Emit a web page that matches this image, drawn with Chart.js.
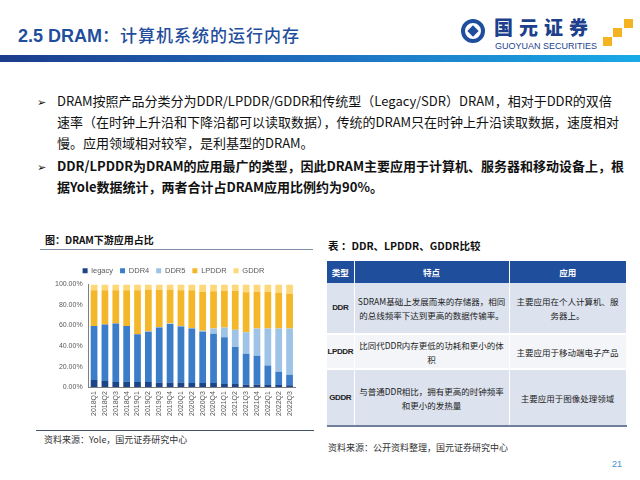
<!DOCTYPE html>
<html>
<head>
<meta charset="utf-8">
<script src="https://cdn.jsdelivr.net/npm/chart.js@4/dist/chart.umd.min.js"></script>
<style>
  body { margin: 0; width: 640px; height: 480px; background: #fff; position: relative; overflow: hidden;
         font-family: "Liberation Sans", Arial, "Noto Sans CJK SC", sans-serif; }
  .abs { position: absolute; }
  #title { left: 18px; top: 22px; font-size: 18px; font-weight: bold; color: #1f4e9c; white-space: nowrap; }
  #title .cn { font-family: "Noto Sans CJK SC"; font-weight: 500; font-size: 17px; letter-spacing: 1px; }
  #bar { left: 0; top: 55px; width: 640px; height: 7px; background: linear-gradient(to right, #1b3c8b, #1f6fc0 50%, #19aae6); }
  #logo-ring { left: 461px; top: 19px; width: 24px; height: 24px; border-radius: 50%; border: 4px solid #1f4e9c; box-sizing: border-box; }
  #logo-dia { left: 469px; top: 27px; width: 8px; height: 8px; background: #1f4e9c; transform: rotate(45deg); }
  #logo-cn { left: 494px; top: 17px; font-family: "Noto Sans CJK SC"; font-weight: 900; font-size: 19px; line-height: 19px; color: #1d3f8c; letter-spacing: 6px; white-space: nowrap; }
  #logo-en { left: 495px; top: 42px; font-size: 9px; line-height: 9px; color: #1d3f8c; white-space: nowrap; }
  .sq { position: absolute; background: #f4b321; }
  .txt { font-family: "Noto Sans CJK SC", sans-serif; font-size: 13px; color: #111; white-space: nowrap; line-height: 21px; }
  .arrow { font-size: 11px; }
  #ctitle { left: 45px; top: 232px; font-family: "Noto Sans CJK SC"; font-weight: bold; font-size: 10px; color: #111; }
  #cline { left: 40px; top: 249px; width: 273px; height: 1px; background: #7f8fa9; }
  #cbot { left: 36px; top: 430px; width: 278px; height: 1px; background: #44546a; }
  #csrc { left: 44px; top: 433px; font-family: "Noto Sans CJK SC"; font-size: 9px; color: #333; }
  #chartbox { left: 52px; top: 260px; width: 254px; height: 157px; }
  #ttitle { left: 328px; top: 238px; font-family: "Noto Sans CJK SC"; font-weight: bold; font-size: 10.5px; color: #111; }
  #tbl { left: 327px; top: 261px; width: 299px; table-layout: fixed; border-collapse: collapse; font-family: "Noto Sans CJK SC"; font-size: 8.5px; color: #222; }
  #tbl th { background: #1f4e9c; color: #fff; font-weight: bold; height: 22px; padding: 0; border-right: 1px solid #fff; }
  #tbl td { text-align: center; padding: 0; line-height: 14px; border-right: 1px solid #fff; white-space: nowrap; overflow: hidden; }
  #tbl tr.a td { background: #dce3ef; }
  #tbl tr.b td { background: #f3f5f9; }
  #tbl tr.sp td { height: 2px; padding: 0; background: #fff; line-height: 2px; }
  #tbl td.k { font-family: "Liberation Sans"; font-size: 8px; font-weight: bold; letter-spacing: -0.4px; }
  #tsrc { left: 328px; top: 441px; font-family: "Noto Sans CJK SC"; font-size: 9px; color: #333; }
  #page { left: 612px; top: 459px; font-size: 9px; color: #3a8fd0; }
</style>
</head>
<body>
<div id="title" class="abs">2.5 DRAM<span class="cn">：计算机系统的运行内存</span></div>
<div id="logo-ring" class="abs"></div>
<div id="logo-dia" class="abs"></div>
<div id="logo-cn" class="abs">国元证券</div>
<div id="logo-en" class="abs">GUOYUAN SECURITIES</div>
<div class="sq" style="left:624px;top:19px;width:9px;height:9px"></div>
<div class="sq" style="left:613px;top:28px;width:9px;height:9px"></div>
<div class="sq" style="left:603px;top:37px;width:9px;height:9px"></div>
<div id="bar" class="abs"></div>

<div class="abs txt" style="left:37px;top:90px"><span class="arrow">➢</span></div>
<div class="abs txt" style="left:57px;top:90px">DRAM按照产品分类分为DDR/LPDDR/GDDR和传统型（Legacy/SDR）DRAM，相对于DDR的双倍<br>速率（在时钟上升沿和下降沿都可以读取数据），传统的DRAM只在时钟上升沿读取数据，速度相对<br>慢。应用领域相对较窄，是利基型的DRAM。</div>
<div class="abs txt" style="left:37px;top:155px"><span class="arrow">➢</span></div>
<div class="abs txt" style="left:57px;top:155px;font-weight:bold">DDR/LPDDR为DRAM的应用最广的类型，因此DRAM主要应用于计算机、服务器和移动设备上，根<br>据Yole数据统计，两者合计占DRAM应用比例约为90%。</div>

<div id="ctitle" class="abs">图：DRAM下游应用占比</div>
<div id="cline" class="abs"></div>
<div id="chartbox" class="abs"><canvas id="chart"></canvas></div>
<div id="cbot" class="abs"></div>
<div id="csrc" class="abs">资料来源：Yole，国元证券研究中心</div>

<div id="ttitle" class="abs">表 ：DDR、LPDDR、GDDR比较</div>
<table id="tbl" class="abs">
  <colgroup><col style="width:27px"><col style="width:155px"><col style="width:117px"></colgroup>
  <tr><th>类型</th><th>特点</th><th style="border-right:none">应用</th></tr>
  <tr class="a"><td class="k" style="height:50px">DDR</td><td>SDRAM基础上发展而来的存储器，相同<br>的总线频率下达到更高的数据传输率。</td><td>主要应用在个人计算机、服<br>务器上。</td></tr>
  <tr class="sp"><td></td><td></td><td></td></tr>
  <tr class="b"><td class="k" style="height:33px">LPDDR</td><td>比同代DDR内存更低的功耗和更小的体<br>积</td><td>主要应用于移动端电子产品</td></tr>
  <tr class="sp"><td></td><td></td><td></td></tr>
  <tr class="a" style="border-bottom:2px solid #6f7f99"><td class="k" style="height:55px">GDDR</td><td>与普通DDR相比，拥有更高的时钟频率<br>和更小的发热量</td><td>主要应用于图像处理领域</td></tr>
</table>
<div id="tsrc" class="abs">资料来源：公开资料整理，国元证券研究中心</div>
<div id="page" class="abs">21</div>

<script>
var quarters = ['2018Q1','2018Q2','2018Q3','2018Q4','2019Q1','2019Q2','2019Q3','2019Q4','2020Q1','2020Q2',
                '2020Q3','2020Q4','2021Q1','2021Q2','2021Q3','2021Q4','2022Q1','2022Q2','2022Q3'];
var legacy = [7, 6, 5, 5.5, 5, 5, 4.5, 4.5, 4.5, 4, 4, 4, 3, 3, 2.5, 2.5, 2, 2, 1.7];
var ddr4   = [52.5, 55, 57, 54, 46.5, 49, 53.5, 57, 54.5, 53, 50, 48, 45.5, 36, 30, 28, 19, 13, 10.3];
var ddr5   = [0, 0, 0, 0, 0, 0.5, 0.5, 0.5, 0.5, 0.5, 1, 5, 9.5, 17, 21, 26.5, 36, 42, 45];
var lpddr  = [35, 33.5, 32.5, 35, 43, 40.5, 36.5, 33, 35, 37, 38, 36.5, 36, 38, 39, 36, 36, 35, 34];
var gddr   = [5.5, 5.5, 5.5, 5.5, 5.5, 5, 5, 5, 5.5, 5.5, 7, 6.5, 6, 6, 7.5, 7, 7, 8, 9];
var yTicks = [0, 10, 20, 30, 40, 50, 60, 70, 80, 90, 100];

var tickFont = { family: 'Liberation Sans', size: 7 };

function ds(label, data, color) {
    return { label: label, data: data, backgroundColor: color, barPercentage: 0.62, categoryPercentage: 1 };
}

new Chart(document.getElementById('chart'), {
    type: 'bar',
    data: {
        labels: quarters,
        datasets: [
            ds('legacy', legacy, '#1c4587'),
            ds('DDR4', ddr4, '#3b7dc8'),
            ds('DDR5', ddr5, '#9dc3e6'),
            ds('LPDDR', lpddr, '#f4b72a'),
            ds('GDDR', gddr, '#fdd878')
        ]
    },
    options: {
        responsive: true,
        maintainAspectRatio: false,
        animation: false,
        layout: { padding: { left: 0, right: 11, top: 0, bottom: 0 } },
        plugins: {
            legend: {
                position: 'top',
                labels: { boxWidth: 5, boxHeight: 5, padding: 7, color: '#595959', font: { family: 'Liberation Sans', size: 7.5 } }
            },
            tooltip: { enabled: false }
        },
        scales: {
            x: {
                stacked: true,
                grid: { display: false, drawTicks: true, tickLength: 3 },
                border: { color: '#7f7f7f' },
                ticks: { color: '#595959', font: tickFont, padding: 1, maxRotation: 90, minRotation: 90, autoSkip: false }
            },
            y: {
                stacked: true,
                min: 0, max: 100,
                afterBuildTicks: function (axis) { axis.ticks = yTicks.map(function (v) { return { value: v }; }); },
                grid: { display: false, drawTicks: true, tickLength: 3 },
                border: { color: '#7f7f7f' },
                ticks: { color: '#595959', font: tickFont, padding: 3,
                         callback: function (v) { return v.toFixed(2) + '%'; } }
            }
        }
    }
});
</script>
</body>
</html>
